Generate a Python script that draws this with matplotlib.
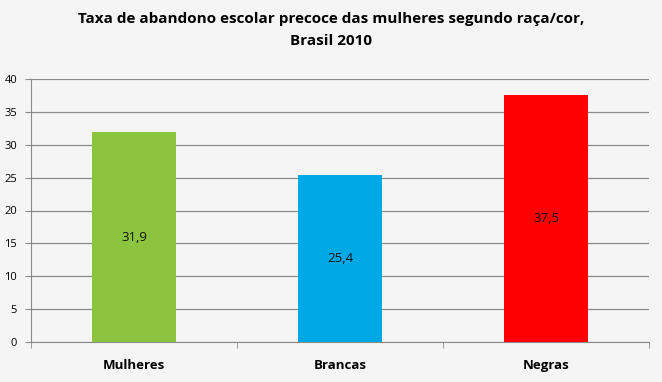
import matplotlib
matplotlib.use("Agg")
import matplotlib.pyplot as plt
import numpy as np

categorias = ["Mulheres", "Brancas", "Negras"]
taxas = [31.9, 25.4, 37.5]
rotulos = ["31,9", "25,4", "37,5"]
cores = ["#8DC43F", "#00A8E6", "#FF0000"]
yticks = [0, 5, 10, 15, 20, 25, 30, 35, 40]

plt.rcParams["font.family"] = ["Open Sans", "DejaVu Sans"]

fig = plt.figure(figsize=(6.62, 3.82), dpi=100)
fig.patch.set_facecolor("#F5F5F5")
ax = fig.add_axes([31 / 662, 40 / 382, 618 / 662, 263 / 382])
ax.set_facecolor("#F5F5F5")

x = np.arange(len(categorias))
ax.set_axisbelow(True)
ax.yaxis.grid(True, color="#8A8A8A", linewidth=0.9)
bars = ax.bar(x, taxas, width=0.41, color=cores, zorder=3)

for b, r in zip(bars, rotulos):
    ax.text(b.get_x() + b.get_width() / 2, b.get_height() / 2, r,
            ha="center", va="center", fontsize=9.5, color="#111111", zorder=4)

ax.set_xlim(-0.5, len(categorias) - 0.5)
ax.set_ylim(0, 40)
ax.set_yticks(yticks)
ax.set_yticklabels([str(v) for v in yticks], fontsize=8)
ax.set_xticks(x)
ax.set_xticklabels(categorias, fontsize=9.5, fontweight="bold")
ax.set_xticks(np.arange(-0.5, len(categorias)), minor=True)
ax.tick_params(axis="x", which="major", length=0, pad=12)
ax.tick_params(axis="x", which="minor", length=4, color="#8A8A8A", direction="out")
ax.tick_params(axis="y", length=4, color="#8A8A8A", pad=6)

for s in ["top", "right"]:
    ax.spines[s].set_visible(False)
for s in ["left", "bottom"]:
    ax.spines[s].set_color("#8A8A8A")

fig.text(0.5, 1 - 30 / 382,
         "Taxa de abandono escolar precoce das mulheres segundo raça/cor,\nBrasil 2010",
         ha="center", va="center", fontsize=11, fontweight="bold", linespacing=1.75)

fig.savefig("out.png", dpi=100, facecolor=fig.get_facecolor())
